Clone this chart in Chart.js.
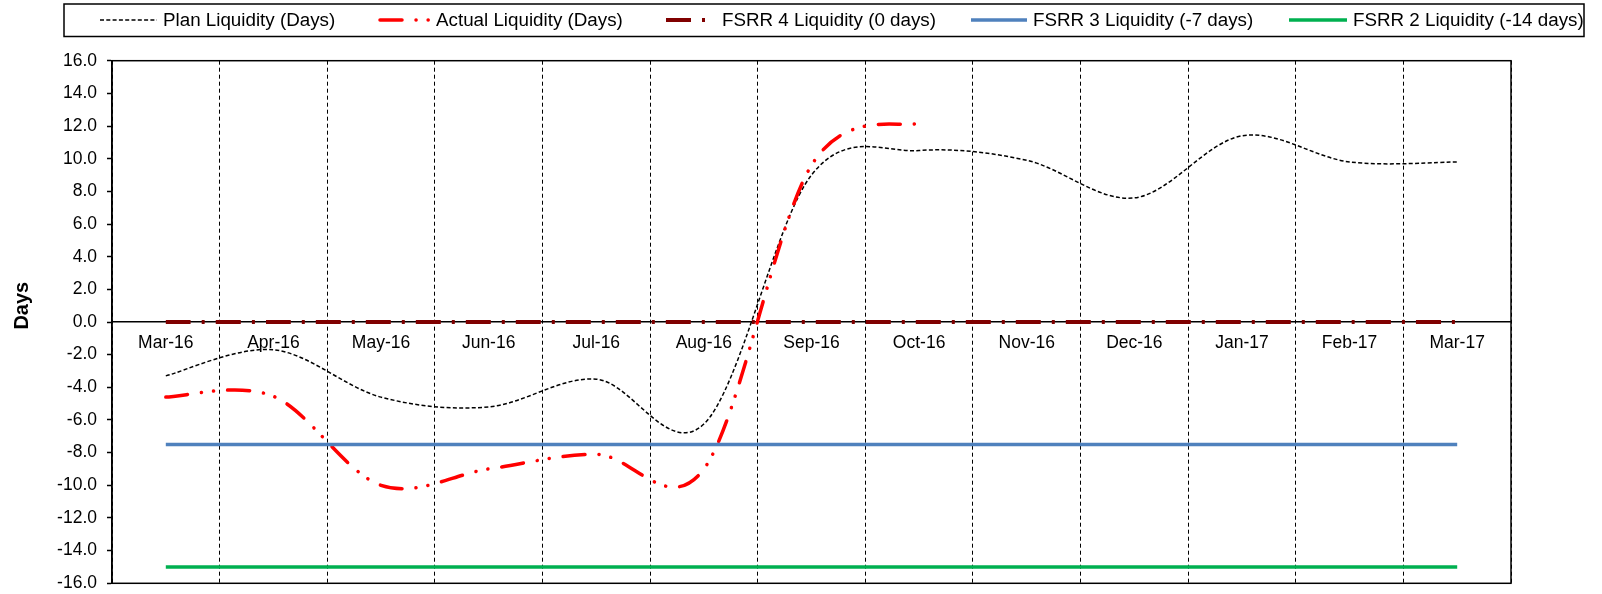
<!DOCTYPE html>
<html>
<head>
<meta charset="utf-8">
<script src="https://cdn.jsdelivr.net/npm/chart.js@4/dist/chart.umd.min.js"></script>
<style>
  html, body { margin: 0; padding: 0; background: #fff; }
  #wrap { width: 1602px; height: 594px; position: relative; }
</style>
</head>
<body>
<div id="wrap"><canvas id="c" width="1602" height="594"></canvas></div>
<script>
// ---- data ----
const categories = ['Mar-16','Apr-16','May-16','Jun-16','Jul-16','Aug-16','Sep-16','Oct-16','Nov-16','Dec-16','Jan-17','Feb-17','Mar-17'];
const planLiquidity   = [-3.3, -1.7, -4.6, -5.2, -3.5, -6.25, 9.0, 10.5, 9.9, 7.6, 11.4, 9.8, 9.8];
const actualLiquidity = [-4.6, -4.55, -10.0, -9.0, -8.1, -9.0, 9.6, 12.2, null, null, null, null, null];
const fsrr4 = [0, 0, 0, 0, 0, 0, 0, 0, 0, 0, 0, 0, 0];
const fsrr3 = [-7.5, -7.5, -7.5, -7.5, -7.5, -7.5, -7.5, -7.5, -7.5, -7.5, -7.5, -7.5, -7.5];
const fsrr2 = [-15, -15, -15, -15, -15, -15, -15, -15, -15, -15, -15, -15, -15];
const seriesLabels = ['Plan Liquidity (Days)', 'Actual Liquidity (Days)', 'FSRR 4 Liquidity (0 days)', 'FSRR 3 Liquidity (-7 days)', 'FSRR 2 Liquidity (-14 days)'];
const yTicks = { min: -16, max: 16, step: 2 };
const yTitle = 'Days';

// Excel-like smoothing (Catmull-Rom through the points computed by the scales)
const excelSmooth = {
  id: 'excelSmooth',
  beforeDatasetDraw(chart, args) {
    const meta = args.meta;
    const line = meta.dataset;
    if (!line || !line.options.tension) return;
    const pts = meta.data;
    for (let i = 0; i < pts.length; i++) {
      const p = pts[i];
      if (p.skip) continue;
      const prev = (i > 0 && !pts[i - 1].skip) ? pts[i - 1] : p;
      const next = (i < pts.length - 1 && !pts[i + 1].skip) ? pts[i + 1] : p;
      const dx = (next.x - prev.x) / 6, dy = (next.y - prev.y) / 6;
      p.cp1x = p.x - dx; p.cp1y = p.y - dy;
      p.cp2x = p.x + dx; p.cp2y = p.y + dy;
    }
    line._pointsUpdated = true;
    line._path = undefined;
  }
};

// plot frame
const frame = {
  id: 'frame',
  beforeDatasetsDraw(chart) {
    const {ctx, chartArea: a} = chart;
    ctx.save();
    ctx.strokeStyle = '#000';
    ctx.lineWidth = 1.5;
    ctx.strokeRect(a.left, a.top, a.right - a.left, a.bottom - a.top);
    ctx.restore();
  }
};

// boxed legend + rotated axis title
const boxedLegend = {
  id: 'boxedLegend',
  afterDraw(chart) {
    const ctx = chart.ctx;
    const starts = [100, 380, 666, 971, 1289];
    const widths = [57, 50, 50, 56, 58];
    const cy = 20;
    ctx.save();
    ctx.strokeStyle = '#000';
    ctx.lineWidth = 1.5;
    ctx.strokeRect(64, 4, 1520, 32.5);
    ctx.font = '18.8px "Liberation Sans", Arial, sans-serif';
    ctx.textBaseline = 'middle';
    ctx.textAlign = 'left';
    chart.data.datasets.forEach((ds, i) => {
      ctx.save();
      ctx.strokeStyle = ds.borderColor;
      ctx.lineWidth = ds.borderWidth;
      ctx.setLineDash(ds.borderDash || []);
      ctx.lineCap = ds.borderCapStyle || 'butt';
      ctx.beginPath();
      ctx.moveTo(starts[i], cy);
      ctx.lineTo(starts[i] + widths[i], cy);
      ctx.stroke();
      ctx.restore();
      ctx.fillStyle = '#000';
      ctx.fillText(ds.label, starts[i] + widths[i] + 6, cy + 0.5);
    });
    // y axis title
    ctx.translate(22.6, 305.7);
    ctx.rotate(-Math.PI / 2);
    ctx.font = 'bold 20px "Liberation Sans", Arial, sans-serif';
    ctx.textAlign = 'center';
    ctx.textBaseline = 'middle';
    ctx.fillText(yTitle, 0, 0);
    ctx.restore();
  }
};

const mk = (label, data, color, width, dash, cap, order) => ({
  label, data, borderColor: color, backgroundColor: color, borderWidth: width,
  borderDash: dash, borderCapStyle: cap, pointRadius: 0, pointHoverRadius: 0,
  tension: 0.4, fill: false, order, spanGaps: false
});

new Chart(document.getElementById('c'), {
  type: 'line',
  data: {
    labels: categories,
    datasets: [
      mk(seriesLabels[0], planLiquidity, '#000000', 1.5, [4, 2.3], 'butt', 4),
      mk(seriesLabels[1], actualLiquidity, '#FF0000', 3.5, [22, 14, 0.1, 12, 0.1, 14], 'round', 3),
      mk(seriesLabels[2], fsrr4, '#800000', 4, [25, 11, 3, 11], 'butt', 2),
      mk(seriesLabels[3], fsrr3, '#4F81BD', 3.5, [], 'butt', 1),
      mk(seriesLabels[4], fsrr2, '#00B050', 3.5, [], 'butt', 0)
    ]
  },
  options: {
    responsive: false,
    animation: false,
    events: [],
    layout: { padding: { top: 60.7, left: 10, right: 91, bottom: 10.7 } },
    plugins: { legend: { display: false }, tooltip: { enabled: false }, title: { display: false } },
    scales: {
      x: {
        type: 'category',
        position: { y: 0 },
        offset: true,
        grid: { display: true, offset: true, color: '#000', lineWidth: 1, drawTicks: false, drawOnChartArea: true },
        border: { display: true, color: '#000', width: 1.5, dash: [4, 3] },
        ticks: { color: '#000', padding: 11, maxRotation: 0, autoSkip: false,
                 font: { family: '"Liberation Sans", Arial, sans-serif', size: 17.5 } }
      },
      y: {
        position: 'left',
        min: yTicks.min, max: yTicks.max,
        afterFit(scale) { scale.width = 102; scale.paddingTop = 0; scale.paddingBottom = 0; },
        grid: { display: true, drawOnChartArea: false, drawTicks: true, tickLength: 5, tickColor: '#000', tickWidth: 1.5 },
        border: { display: true, color: '#000', width: 1.5 },
        title: { display: false, text: yTitle },
        ticks: { stepSize: yTicks.step, color: '#000', padding: 10,
                 font: { family: '"Liberation Sans", Arial, sans-serif', size: 17.5 },
                 callback: (v) => Number(v).toFixed(1) }
      }
    }
  },
  plugins: [excelSmooth, frame, boxedLegend]
});
</script>
</body>
</html>
